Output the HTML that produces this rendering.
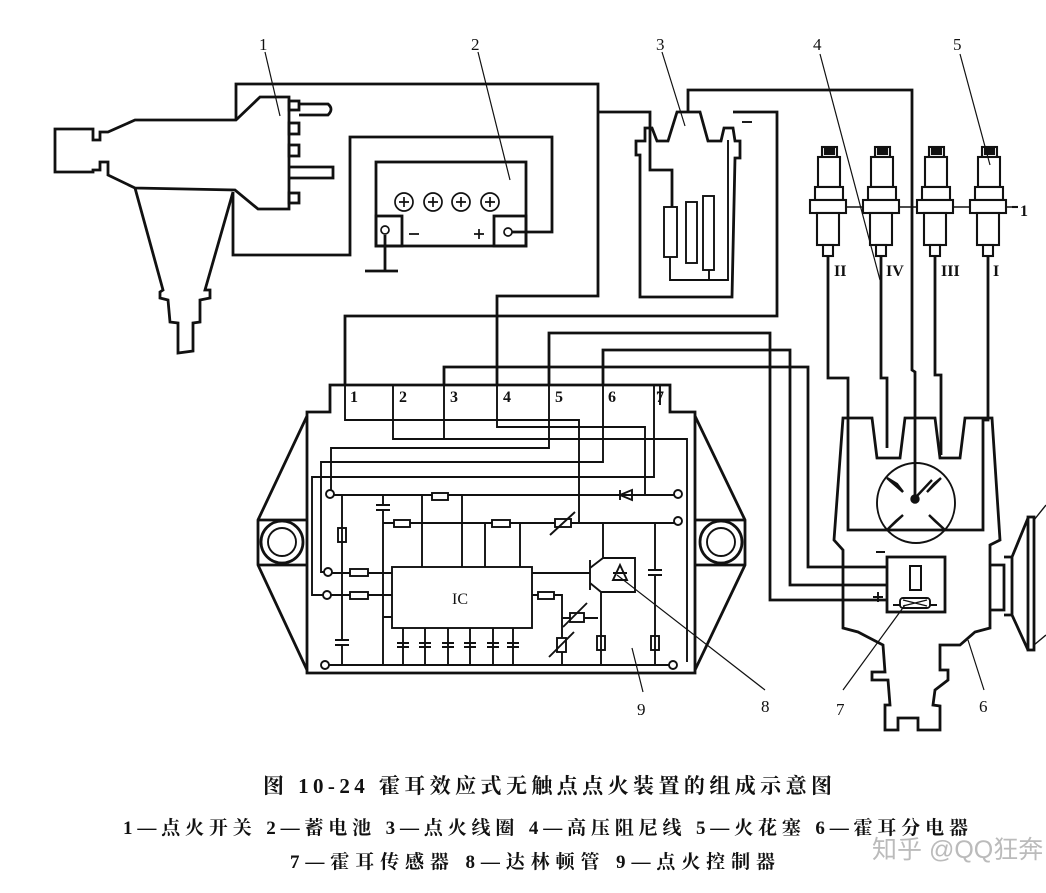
<!DOCTYPE html>
<html><head><meta charset="utf-8"><style>
html,body{margin:0;padding:0;background:#fff;}
svg{display:block;}
text{font-family:"Liberation Serif","Noto Serif CJK SC",serif;fill:#111;}
.cap{font-family:"Liberation Serif","Noto Serif CJK SC",serif;font-weight:bold;}
</style></head><body>
<svg width="1046" height="893" viewBox="0 0 1046 893" xmlns="http://www.w3.org/2000/svg">
<g fill="none" stroke="#111" stroke-width="2.8" stroke-linejoin="miter">
<path d="M55,129 L93,129 L93,140 L100,140 L100,132 L108,132 L135,120 L236,120 L260,97 L289,97 L289,209 L258,209 L235,190 L135,188 L108,175 L108,162 L100,162 L100,170 L93,170 L93,172 L55,172 Z"/>
<path d="M135,188 L163,290 L160,292 L160,298 L168,300 L170,322 L178,323 L178,353 L193,351 L193,323 L200,322 L200,300 L210,298 L210,290 L205,290 L233,192"/>
<rect x="289" y="101" width="10" height="9"/>
<rect x="289" y="123" width="10" height="11"/>
<rect x="289" y="145" width="10" height="11"/>
<rect x="289" y="193" width="10" height="10"/>
<path d="M299,104 L328,104 Q334,109 328,115 L299,115"/>
<path d="M289,167 L333,167 L333,178 L289,178"/>
<path d="M236,120 L236,84 L598,84 L598,296 L497,296 L497,386"/>
<path d="M598,112 L650,112 L650,170 L672,170 L672,207"/>
<path d="M233,192 L233,255 L350,255 L350,137 L552,137 L552,232 L512,232"/>
<rect x="376" y="162" width="150" height="84"/>
<rect x="376" y="216" width="26" height="30"/>
<rect x="494" y="216" width="32" height="30"/>
<path d="M385,235 L385,271 M365,271 L398,271"/>
</g>
<g fill="none" stroke="#111" stroke-width="1.7">
<circle cx="404" cy="202" r="9"/><circle cx="433" cy="202" r="9"/><circle cx="461" cy="202" r="9"/><circle cx="490" cy="202" r="9"/>
<path d="M399,202h10M404,197v10M428,202h10M433,197v10M456,202h10M461,197v10M485,202h10M490,197v10"/>
<circle cx="385" cy="230" r="4"/><circle cx="508" cy="232" r="4"/>
<path d="M409,234h10M474,234h10M479,229v10"/>
</g>
<g fill="none" stroke="#111" stroke-width="2.8">
<path d="M640,160 L640,155 L636,155 L636,141 L645,141 L645,128 L652,128 L657,141 L668,141 L677,112 L700,112 L708,141 L721,141 L724,128 L733,128 L735,141 L740,141 L740,158 L735,158 L732,297 L640,297 Z"/>
<path d="M688,112 L688,90 L912,90 L912,370 L915,372 L915,497"/>
<path d="M733,112 L777,112 L777,316 L345,316 L345,386"/>
<path d="M549,386 L549,333 L770,333 L770,600 L887,600"/>
<path d="M603,386 L603,350 L790,350 L790,585 L887,585"/>
<path d="M444,386 L444,367 L808,367 L808,567 L887,567"/>
</g>
<g fill="none" stroke="#111" stroke-width="1.9">
<rect x="664" y="207" width="13" height="50"/>
<rect x="686" y="202" width="11" height="61"/>
<rect x="703" y="196" width="11" height="74"/>
<path d="M670,257 L670,280 L728,280 L728,140 M709,270 L709,280"/>
<path d="M742,122h10"/>
</g>
<g fill="#fff" stroke="#111" stroke-width="2.1">
<path d="M810,207 L1012,207" fill="none" stroke-width="1.6"/>
<path d="M1012,207 L1018,207" fill="none"/>
<g id="pl">
<rect x="822" y="147" width="15" height="10"/>
<rect x="818" y="157" width="22" height="30"/>
<rect x="815" y="187" width="28" height="13"/>
<rect x="810" y="200" width="36" height="13"/>
<rect x="817" y="213" width="22" height="32"/>
<rect x="823" y="245" width="10" height="11"/>
<path d="M825,149 h9 v5 h-9z" fill="#111"/>
</g>
<use href="#pl" x="53"/>
<use href="#pl" x="107"/>
<use href="#pl" x="160"/>
</g>
<g fill="none" stroke="#111" stroke-width="2.8">
<path d="M828,256 L828,378 L848,378 L848,530 L983,530 L983,420 L988,420 L988,256"/>
<path d="M881,256 L881,378 L887,378 L887,448"/>
<path d="M935,256 L935,375 L941,375 L941,455"/>
<path d="M843,418 L872,418 L877,458 L900,458 L905,418 L935,418 L940,458 L960,458 L965,418 L992,418 L1000,540 L990,545 L990,628 L975,632 L960,645 L940,645 L940,670 L948,670 L948,680 L935,690 L933,705 L940,706 L940,730 L918,730 L918,718 L898,718 L898,730 L885,730 L885,705 L890,705 L888,680 L872,680 L872,672 L885,672 L883,645 L858,632 L843,628 L843,550 L834,540 Z"/>
<rect x="887" y="557" width="58" height="55" fill="#fff"/>
<rect x="910" y="566" width="11" height="24" stroke-width="2"/>
<path d="M990,565 L1004,565 L1004,610 L990,610 M1004,557 L1012,557 L1012,615 L1004,615 M1012,557 L1028,518 M1012,615 L1028,650"/>
<rect x="1028" y="517" width="6" height="133"/>
<path d="M1034,520 L1046,505 M1034,645 L1046,635" stroke-width="1.4"/>
</g>
<g fill="none" stroke="#111" stroke-width="1.9">
<ellipse cx="916" cy="503" rx="39" ry="40"/>
<path d="M893,605 h7 M930,605 h7"/>
<rect x="900" y="598" width="30" height="10" rx="3"/>
<path d="M903,600 l24,6 M903,606 l24,-6" stroke-width="1.2"/>
<path d="M876,552h9 M873,597h10 M878,592v10"/>
</g>
<g fill="#111" stroke="#111" stroke-width="2.4">
<path d="M916,497 L932,480" fill="none"/>
<circle cx="915" cy="499" r="3.5"/>
<path d="M887,478 L903,492 L897,484 Z M941,478 L927,492 L934,484 Z M887,530 L903,515 L896,521Z M945,530 L929,515 L935,521Z"/>
</g>
<g fill="none" stroke="#111" stroke-width="2.8">
<path d="M330,385 L670,385 L670,412 L695,412 L695,673 L307,673 L307,412 L330,412 Z"/>
<path d="M307,416 L258,520 L258,565 L307,670 M695,416 L745,520 L745,565 L695,670"/>
<path d="M258,520 L307,520 M258,565 L307,565 M695,520 L745,520 M695,565 L745,565"/>
<circle cx="282" cy="542" r="21"/><circle cx="721" cy="542" r="21"/>
</g>
<g fill="none" stroke="#111" stroke-width="1.9">
<circle cx="282" cy="542" r="14"/><circle cx="721" cy="542" r="14"/>
<path d="M393,385 L393,439 L687,439 L687,662 M444,386 L444,439"/>
<path d="M345,386 L345,420 L579,420 L579,523"/>
<path d="M497,386 L497,427 L645,427 L645,495"/>
<path d="M549,386 L549,448 L331,448 L331,490"/>
<path d="M603,386 L603,462 L321,462 L321,572 L324,572"/>
<path d="M654,386 L654,477 L312,477 L312,595 L323,595"/>
<path d="M330,394 L330,405 M660,386 L660,405"/>
<path d="M334,495 L674,495 M383,523 L674,523"/>
<path d="M383,495 L383,505 M376,505h14 M376,510h14 M383,510 L383,665"/>
<path d="M342,495 L342,640 M335,640h14 M335,645h14 M342,645 L342,665"/>
<rect x="338" y="528" width="8" height="14"/>
<path d="M329,665 L669,665"/>
<rect x="432" y="493" width="16" height="7" fill="#fff"/>
<rect x="394" y="520" width="16" height="7" fill="#fff"/>
<rect x="492" y="520" width="18" height="7" fill="#fff"/>
<rect x="555" y="519" width="16" height="8" fill="#fff"/>
<path d="M550,535 L575,512"/>
<path d="M620,490 L620,500 M632,490 L620,495 L632,500 Z"/>
<path d="M422,495 L422,567 M462,495 L462,567 M485,523 L485,567 M520,523 L520,567"/>
<rect x="392" y="567" width="140" height="61"/>
<path d="M332,573 L392,573 M331,595 L392,595 M383,617 L392,617"/>
<rect x="350" y="569" width="18" height="7" fill="#fff"/>
<rect x="350" y="592" width="18" height="7" fill="#fff"/>
<path d="M403,628 V665 M425,628 V665 M448,628 V665 M470,628 V665 M493,628 V665 M513,628 V665"/>
<path d="M397,643h12M397,647h12M419,643h12M419,647h12M442,643h12M442,647h12M464,643h12M464,647h12M487,643h12M487,647h12M507,643h12M507,647h12"/>
<path d="M532,573 L590,573 M532,595 L538,595"/>
<rect x="538" y="592" width="16" height="7" fill="#fff"/>
<path d="M554,595 L562,595 L562,665 M562,618 L598,618"/>
<rect x="570" y="613" width="14" height="9" fill="#fff"/>
<path d="M563,627 L587,603"/>
<rect x="557" y="638" width="9" height="14" fill="#fff"/>
<path d="M549,657 L574,632"/>
<path d="M590,560 L590,590 M590,568 L603,558 L603,523 M590,583 L601,592 L601,665"/>
<path d="M603,558 L635,558 L635,592 L601,592"/>
<path d="M613,573 L627,573 M620,565 L613,580 L627,580 Z"/>
<rect x="597" y="636" width="8" height="14"/>
<path d="M655,523 L655,570 M648,570h14 M648,575h14 M655,575 L655,665"/>
<rect x="651" y="636" width="8" height="14"/>
</g>
<g fill="#fff" stroke="#111" stroke-width="1.9">
<circle cx="330" cy="494" r="4"/><circle cx="678" cy="494" r="4"/><circle cx="678" cy="521" r="4"/>
<circle cx="328" cy="572" r="4"/><circle cx="327" cy="595" r="4"/><circle cx="325" cy="665" r="4"/><circle cx="673" cy="665" r="4"/>
</g>
<g fill="none" stroke="#111" stroke-width="1.2">
<path d="M265,52 L280,116 M478,52 L510,180 M662,52 L685,126 M820,54 L880,280 M960,54 L990,165"/>
<path d="M643,692 L632,648 M765,690 L617,575 M843,690 L905,605 M984,690 L968,640"/>
</g>
<g font-size="17">
<text x="259" y="50">1</text><text x="471" y="50">2</text><text x="656" y="50">3</text><text x="813" y="50">4</text><text x="953" y="50">5</text>
<text x="637" y="715">9</text><text x="761" y="712">8</text><text x="836" y="715">7</text><text x="979" y="712">6</text>
</g>
<g font-size="16" font-weight="bold">
<text x="350" y="402">1</text><text x="399" y="402">2</text><text x="450" y="402">3</text><text x="503" y="402">4</text><text x="555" y="402">5</text><text x="608" y="402">6</text><text x="656" y="402">7</text>
<text x="834" y="276">II</text><text x="886" y="276">IV</text><text x="941" y="276">III</text><text x="993" y="276">I</text>
<text x="1020" y="216">1</text>
</g>
<text x="452" y="604" font-family="Liberation Sans" font-size="16">IC</text>
<text class="cap" x="263" y="793" font-size="21" textLength="569" lengthAdjust="spacing">图 10-24  霍耳效应式无触点点火装置的组成示意图</text>
<text class="cap" x="123" y="834" font-size="19" textLength="845" lengthAdjust="spacing">1—点火开关  2—蓄电池  3—点火线圈  4—高压阻尼线  5—火花塞  6—霍耳分电器</text>
<text class="cap" x="290" y="868" font-size="19" textLength="485" lengthAdjust="spacing">7—霍耳传感器  8—达林顿管  9—点火控制器</text>
<text x="872" y="858" font-size="25" style="font-family:'Liberation Sans','Noto Sans CJK SC',sans-serif;fill:#bbb">知乎 @QQ狂奔</text>
</svg>
</body></html>
